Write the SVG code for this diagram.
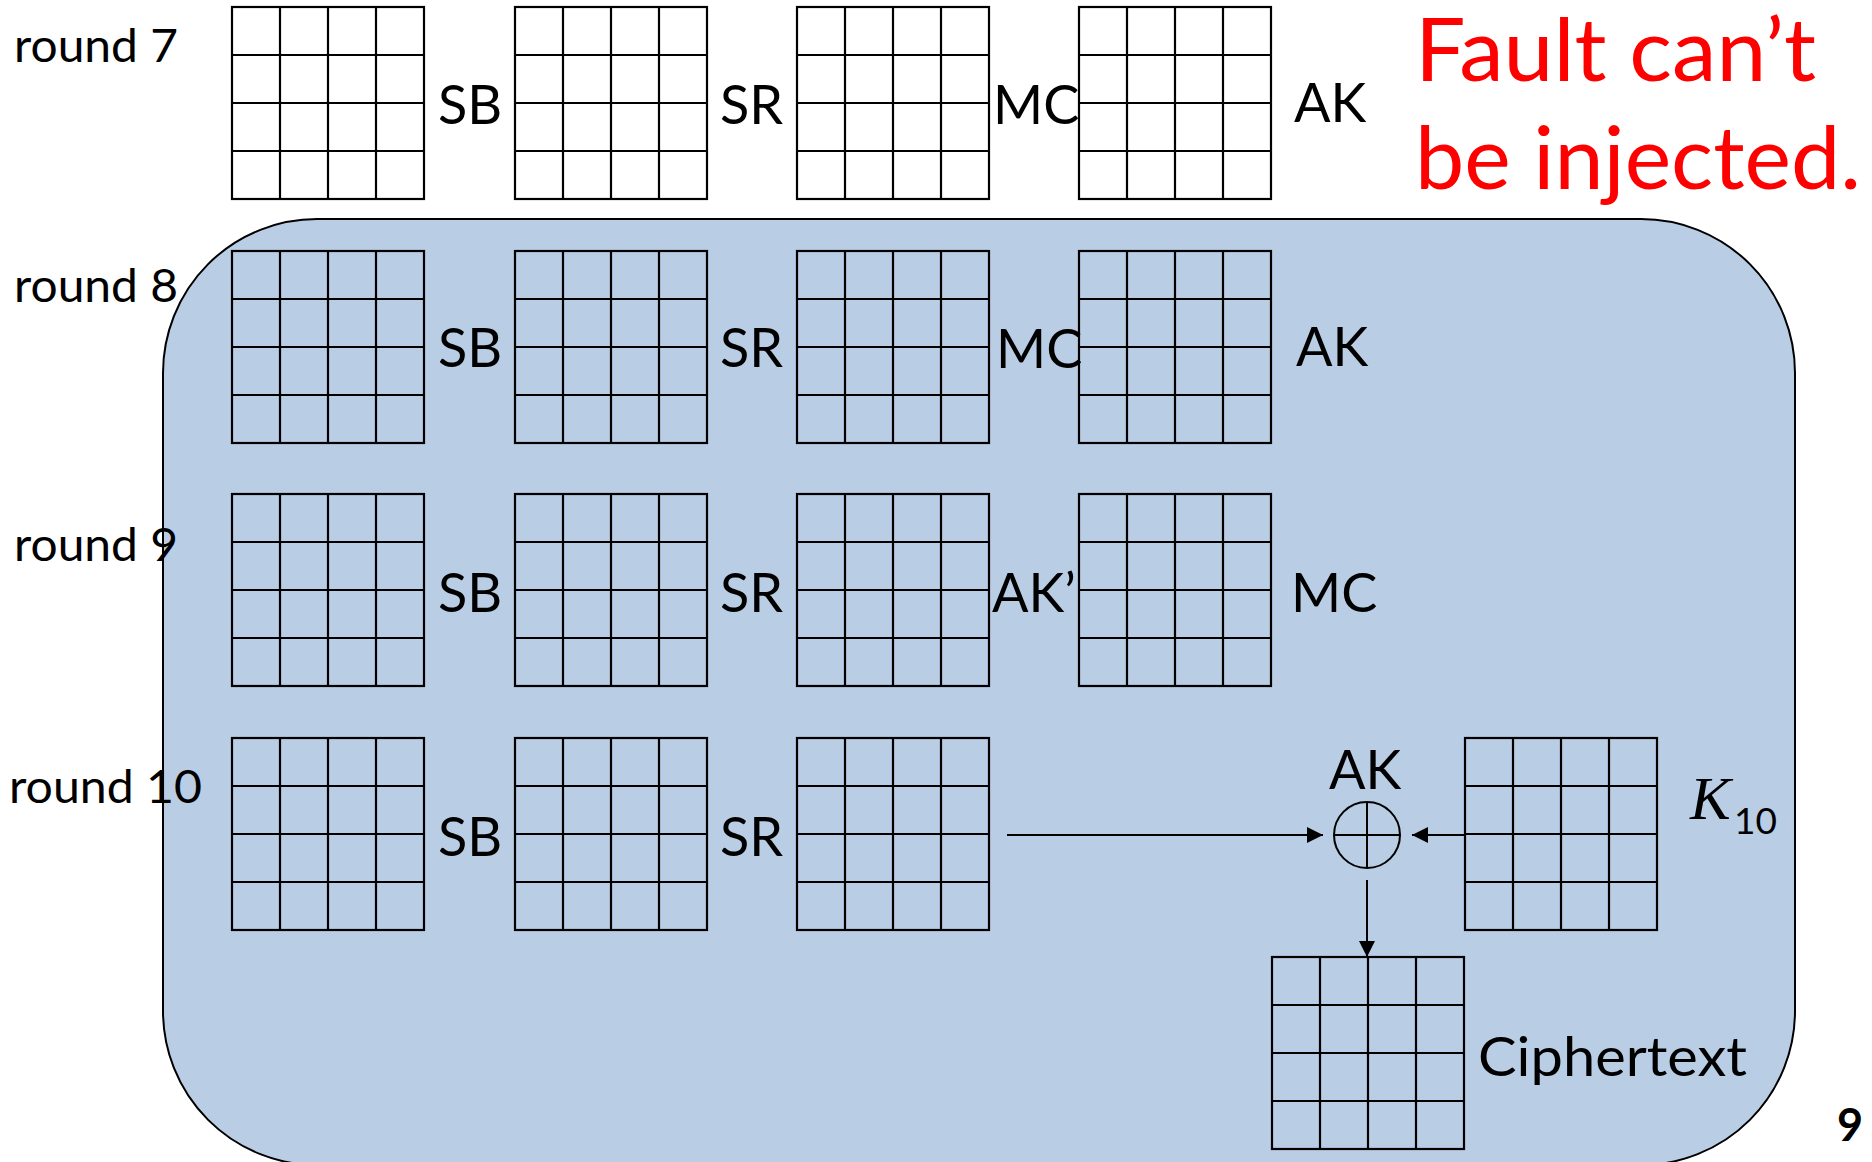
<svg xmlns="http://www.w3.org/2000/svg" xmlns:xlink="http://www.w3.org/1999/xlink" width="1872" height="1162" viewBox="0 0 1872 1162">
<style>
  .lbl{font-family:Lato,"Liberation Sans",sans-serif;fill:#000;}
  .op{font-size:54px;}
  .rnd{font-size:47px;}
  .red{font-family:Lato,"Liberation Sans",sans-serif;font-size:88px;fill:#FF0000;}
  .gl{stroke:#000;stroke-width:2.2;fill:none;}
  .conn{stroke:#000;stroke-width:2;fill:none;}
</style>
<defs>
  <g id="grid">
    <rect x="0" y="0" width="192" height="192" stroke="#000" stroke-width="2.2"/>
    <path class="gl" d="M48 0V192M96 0V192M144 0V192M0 48H192M0 96H192M0 144H192"/>
  </g>
  <marker id="arr" markerUnits="userSpaceOnUse" markerWidth="18" markerHeight="16" refX="16" refY="8" orient="auto">
    <path d="M0 0L16 8L0 16Z" fill="#000"/>
  </marker>
</defs>
<rect width="1872" height="1162" fill="#fff"/>
<g id="region">
  <rect x="163" y="219" width="1632" height="946" rx="154" ry="154" fill="#B9CDE5" stroke="#000" stroke-width="2"/>
</g>
<g id="round7">
  <text class="lbl rnd" x="14" y="62" textLength="164" lengthAdjust="spacingAndGlyphs">round 7</text>
  <use href="#grid" x="232" y="7" fill="#fff"/>
  <use href="#grid" x="515" y="7" fill="#fff"/>
  <use href="#grid" x="797" y="7" fill="#fff"/>
  <use href="#grid" x="1079" y="7" fill="#fff"/>
  <text class="lbl op" x="438" y="124">SB</text>
  <text class="lbl op" x="720" y="124">SR</text>
  <text class="lbl op" x="993" y="124">MC</text>
  <text class="lbl op" x="1294" y="122">AK</text>
</g>
<g id="round8">
  <text class="lbl rnd" x="14" y="302" textLength="164" lengthAdjust="spacingAndGlyphs">round 8</text>
  <use href="#grid" x="232" y="251" fill="none"/>
  <use href="#grid" x="515" y="251" fill="none"/>
  <use href="#grid" x="797" y="251" fill="none"/>
  <use href="#grid" x="1079" y="251" fill="none"/>
  <text class="lbl op" x="438" y="367">SB</text>
  <text class="lbl op" x="720" y="367">SR</text>
  <text class="lbl op" x="996" y="368">MC</text>
  <text class="lbl op" x="1296" y="366">AK</text>
</g>
<g id="round9">
  <text class="lbl rnd" x="14" y="561" textLength="164" lengthAdjust="spacingAndGlyphs">round 9</text>
  <use href="#grid" x="232" y="494" fill="none"/>
  <use href="#grid" x="515" y="494" fill="none"/>
  <use href="#grid" x="797" y="494" fill="none"/>
  <use href="#grid" x="1079" y="494" fill="none"/>
  <text class="lbl op" x="438" y="612">SB</text>
  <text class="lbl op" x="720" y="612">SR</text>
  <text class="lbl op" x="992" y="612">AK’</text>
  <text class="lbl op" x="1291" y="612">MC</text>
</g>
<g id="round10">
  <text class="lbl rnd" x="9" y="803" textLength="193" lengthAdjust="spacingAndGlyphs">round 10</text>
  <use href="#grid" x="232" y="738" fill="none"/>
  <use href="#grid" x="515" y="738" fill="none"/>
  <use href="#grid" x="797" y="738" fill="none"/>
  <text class="lbl op" x="438" y="856">SB</text>
  <text class="lbl op" x="720" y="856">SR</text>
</g>
<g id="xor">
  <text class="lbl op" x="1329" y="789">AK</text>
  <circle cx="1367" cy="835" r="33" fill="none" stroke="#000" stroke-width="2"/>
  <path class="conn" d="M1334 835H1400M1367 802V868"/>
</g>
<g id="k10">
  <use href="#grid" x="1465" y="738" fill="none"/>
  <text x="1690" y="819" font-family="'Liberation Serif',serif" font-style="italic" font-size="61">K</text>
  <text class="lbl" x="1734" y="834" font-size="37">10</text>
</g>
<g id="ciphertext">
  <use href="#grid" x="1272" y="957" fill="none"/>
  <text class="lbl op" x="1478" y="1076" textLength="269" lengthAdjust="spacingAndGlyphs">Ciphertext</text>
</g>
<g id="connectors">
  <line class="conn" x1="1007" y1="835" x2="1323" y2="835" marker-end="url(#arr)"/>
  <line class="conn" x1="1465" y1="835" x2="1412" y2="835" marker-end="url(#arr)"/>
  <line class="conn" x1="1367" y1="880" x2="1367" y2="957" marker-end="url(#arr)"/>
</g>
<g id="note">
  <text class="red" x="1415" y="81" textLength="401" lengthAdjust="spacingAndGlyphs">Fault can’t</text>
  <text class="red" x="1415" y="189" textLength="446" lengthAdjust="spacingAndGlyphs">be injected.</text>
</g>
<g id="pagenum">
  <text class="lbl" x="1837" y="1141" font-size="45" font-weight="bold">9</text>
</g>
</svg>
